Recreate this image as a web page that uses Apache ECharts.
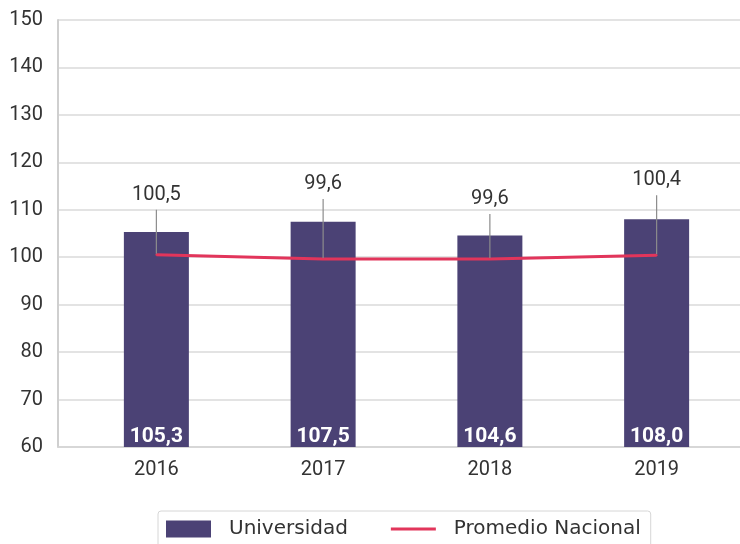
<!DOCTYPE html>
<html>
<head>
<meta charset="utf-8">
<script src="https://cdn.jsdelivr.net/npm/echarts@6/dist/echarts.min.js"></script>
<style>
  html, body { margin: 0; padding: 0; background: #fff; }
  #chart { width: 740px; height: 544px; }
</style>
</head>
<body>
<div id="chart"></div>
<script>
// data
const years = ['2016', '2017', '2018', '2019'];
const universidad = [105.3, 107.5, 104.6, 108.0];
const promedioNacional = [100.5, 99.6, 99.6, 100.4];
const yTicks = [60, 70, 80, 90, 100, 110, 120, 130, 140, 150];

const NUM_FONT = 'Roboto';
const TXT_FONT = 'DejaVu Sans';
const fmt = v => v.toFixed(1).replace('.', ',');

const chart = echarts.init(document.getElementById('chart'), null, { renderer: 'canvas' });

chart.setOption({
    animation: false,
    textStyle: { fontFamily: NUM_FONT },
    grid: [
        { left: 58, right: 0, top: 20, bottom: 97 },
        { left: 73, right: 0, top: 20, bottom: 97 }
    ],
    xAxis: [
        {
            gridIndex: 0, type: 'category', data: years,
            axisLine: { show: true, lineStyle: { color: '#d4d4d4', width: 1.5 } },
            axisTick: { show: false }, axisLabel: { show: false }
        },
        {
            gridIndex: 1, type: 'category', data: years,
            axisLine: { show: false }, axisTick: { show: false },
            axisLabel: { color: '#333', fontSize: 20, margin: 13, fontFamily: NUM_FONT }
        }
    ],
    yAxis: [
        {
            gridIndex: 0, type: 'value',
            min: yTicks[0], max: yTicks[yTicks.length - 1], interval: 10,
            axisLine: { show: true, lineStyle: { color: '#cfcfcf', width: 2 } },
            axisTick: { show: false },
            axisLabel: { color: '#333', fontSize: 20, margin: 15, fontFamily: NUM_FONT },
            splitLine: { lineStyle: { color: '#dadada', width: 1.5 } }
        },
        {
            gridIndex: 1, type: 'value',
            min: yTicks[0], max: yTicks[yTicks.length - 1], interval: 10,
            show: false
        }
    ],
    legend: {
        left: 158, top: 511,
        padding: [8, 10, 8, 8],
        borderColor: '#d6d6d6', borderWidth: 1, borderRadius: 3,
        itemWidth: 45, itemHeight: 17, itemGap: 43,
        textStyle: { color: '#333', fontSize: 20, fontFamily: TXT_FONT, padding: [0, 0, 0, 13] },
        data: [
            { name: 'Universidad', icon: 'rect' },
            { name: 'Promedio Nacional', icon: 'path://M0,0h45v3H0z' }
        ]
    },
    series: [
        {
            name: 'Universidad', type: 'bar',
            xAxisIndex: 1, yAxisIndex: 1,
            data: universidad,
            barWidth: 65,
            itemStyle: { color: '#4b4275' },
            label: {
                show: true, position: 'insideBottom', distance: 0,
                color: '#fff', fontSize: 21, fontWeight: 'bold', fontFamily: NUM_FONT,
                formatter: p => fmt(p.value)
            },
            z: 2
        },
        {
            name: 'Promedio Nacional', type: 'line',
            xAxisIndex: 1, yAxisIndex: 1,
            data: promedioNacional,
            symbol: 'circle', symbolSize: 2,
            itemStyle: { color: '#e2355b' },
            lineStyle: { color: '#e2355b', width: 3 },
            label: {
                show: true, position: 'top', distance: 0,
                color: '#333', fontSize: 20, fontFamily: NUM_FONT,
                lineHeight: 30,
                formatter: p => fmt(p.value)
            },
            labelLine: { show: true, lineStyle: { color: '#8c8c8c', width: 1.2 } },
            labelLayout: p => ({ dy: p.dataIndex % 2 === 0 ? -44 : -59 }),
            z: 3
        }
    ]
});
</script>
</body>
</html>
